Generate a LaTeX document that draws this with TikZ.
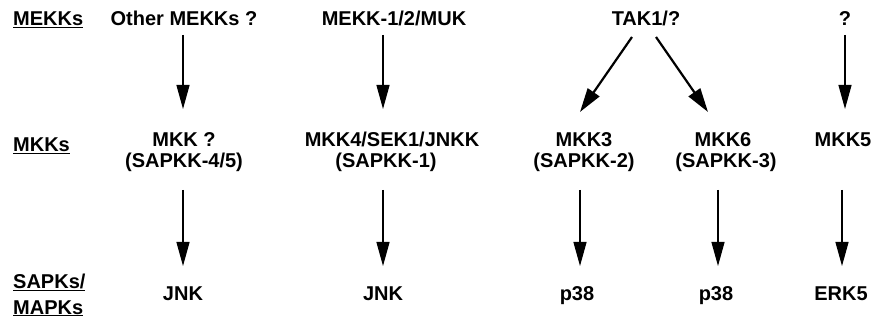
\documentclass[tikz,border=0pt]{standalone}
\usepackage{fontspec}
\setmainfont{Liberation Sans}
\usetikzlibrary{arrows.meta}
\begin{document}
\begin{tikzpicture}[x=1pt,y=-1pt,
  lbl/.style={font=\bfseries\fontsize{20}{21}\selectfont, inner sep=0pt, anchor=base},
  rowlbl/.style={lbl, anchor=base west},
  arr/.style={line width=1.2pt, -{Triangle[length=24pt,width=13pt]}},
  diag/.style={line width=2.2pt, -{Triangle[length=24pt,width=14pt]}}]
\useasboundingbox (0,0) rectangle (883,320);

% level labels on the left
\node[rowlbl] (lmekk) at (13,26)  {\underline{MEKKs}};
\node[rowlbl] (lmkk)  at (13,152) {\underline{MKKs}};
\node[rowlbl] (lsapk) at (13,288) {\underline{SAPKs/}};
\node[rowlbl] (lmapk) at (13,314) {\underline{MAPKs}};

% MEKK level
\node[lbl] (a1) at (184,26) {Other MEKKs ?};
\node[lbl] (a2) at (394,26) {MEKK-1/2/MUK};
\node[lbl] (a3) at (646,26) {TAK1/?};
\node[lbl] (a5) at (845,26) {?};

% MKK level
\node[lbl] (b1) at (184,147) {MKK ?};
\node[lbl] (b1s) at (184,168) {(SAPKK-4/5)};
\node[lbl] (b2) at (392,147) {MKK4/SEK1/JNKK};
\node[lbl] (b2s) at (386,168) {(SAPKK-1)};
\node[lbl] (b3) at (584,147) {MKK3};
\node[lbl] (b3s) at (584,168) {(SAPKK-2)};
\node[lbl] (b4) at (723,147) {MKK6};
\node[lbl] (b4s) at (726,168) {(SAPKK-3)};
\node[lbl] (b5) at (843,147) {MKK5};

% SAPK / MAPK level
\node[lbl] (c1) at (183,300) {JNK};
\node[lbl] (c2) at (383,300) {JNK};
\node[lbl] (c3) at (577,300) {p38};
\node[lbl] (c4) at (716,300) {p38};
\node[lbl] (c5) at (841,300) {ERK5};

% arrow end points
\coordinate (t1) at (183,35);  \coordinate (h1) at (183,109);
\coordinate (t2) at (383,35);  \coordinate (h2) at (383,109);
\coordinate (t5) at (845,35);  \coordinate (h5) at (845,109);
\coordinate (d3) at (632,37);  \coordinate (e3) at (580,112);
\coordinate (d4) at (656,37);  \coordinate (e4) at (708,112);
\coordinate (u1) at (183,190); \coordinate (v1) at (183,266);
\coordinate (u2) at (383,190); \coordinate (v2) at (383,266);
\coordinate (u3) at (580,190); \coordinate (v3) at (580,266);
\coordinate (u4) at (718,190); \coordinate (v4) at (718,266);
\coordinate (u5) at (842,190); \coordinate (v5) at (842,266);

% MEKK -> MKK
\draw[arr] (t1) -- (h1);
\draw[arr] (t2) -- (h2);
\draw[arr] (t5) -- (h5);
\draw[diag] (d3) -- (e3);
\draw[diag] (d4) -- (e4);

% MKK -> SAPK/MAPK
\draw[arr] (u1) -- (v1);
\draw[arr] (u2) -- (v2);
\draw[arr] (u3) -- (v3);
\draw[arr] (u4) -- (v4);
\draw[arr] (u5) -- (v5);
\end{tikzpicture}
\end{document}
